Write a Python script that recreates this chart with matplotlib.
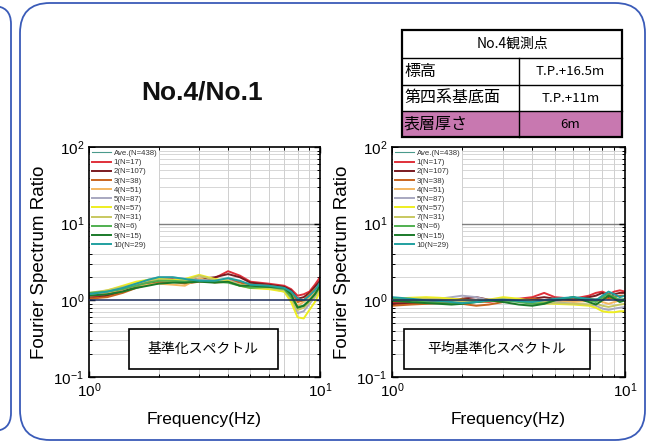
import matplotlib
matplotlib.use("Agg")
import matplotlib.pyplot as plt
from matplotlib.patches import FancyBboxPatch, Rectangle
from matplotlib.ticker import LogLocator, NullFormatter

plt.rcParams["font.family"] = ["Liberation Sans", "DejaVu Sans"]
JP = ["Noto Sans CJK JP", "DejaVu Sans"]

# 周波数 (Hz)
FREQ = [1.0, 1.2, 1.4, 1.6, 1.8, 2.0, 2.3, 2.6, 3.0, 3.5, 4.0, 4.5, 5.0, 6.0, 7.0, 7.5, 8.0, 8.5, 9.0, 9.5, 10.0]

LABELS = ["Ave.(N=438)", "1(N=17)", "2(N=107)", "3(N=38)", "4(N=51)", "5(N=87)",
          "6(N=57)", "7(N=31)", "8(N=6)", "9(N=15)", "10(N=29)"]
COLORS = ["#4a9a8c", "#e0303a", "#7a1a20", "#c8641e", "#f5b860", "#a8a8c0",
          "#eeee20", "#c8c860", "#50b050", "#1a7a2a", "#20a0a0"]

# 基準化スペクトル (左)
LEFT = [
    [1.18, 1.30, 1.45, 1.60, 1.75, 1.88, 1.90, 1.85, 1.80, 1.85, 1.90, 1.75, 1.65, 1.60, 1.45, 1.30, 1.00, 0.95, 1.10, 1.30, 1.60],
    [1.10, 1.20, 1.40, 1.55, 1.70, 1.85, 1.90, 1.85, 1.80, 1.95, 2.40, 2.10, 1.75, 1.65, 1.55, 1.40, 1.15, 1.20, 1.30, 1.60, 2.00],
    [1.05, 1.15, 1.30, 1.50, 1.65, 1.80, 1.85, 1.80, 1.90, 2.00, 2.20, 2.00, 1.70, 1.60, 1.50, 1.35, 1.05, 1.10, 1.25, 1.50, 1.80],
    [1.05, 1.10, 1.25, 1.45, 1.60, 1.70, 1.75, 1.65, 1.75, 1.80, 1.85, 1.70, 1.60, 1.55, 1.45, 1.25, 0.95, 1.00, 1.20, 1.40, 1.55],
    [1.15, 1.25, 1.40, 1.55, 1.60, 1.65, 1.60, 1.55, 1.95, 1.70, 1.75, 1.60, 1.55, 1.50, 1.40, 1.20, 0.85, 0.95, 1.10, 1.30, 1.50],
    [1.20, 1.30, 1.45, 1.65, 1.85, 2.00, 2.00, 1.90, 1.85, 1.80, 1.85, 1.60, 1.50, 1.45, 1.30, 1.00, 0.68, 0.72, 0.90, 1.10, 1.35],
    [1.20, 1.35, 1.55, 1.75, 1.85, 1.90, 1.85, 1.90, 2.15, 1.90, 1.80, 1.55, 1.45, 1.40, 1.30, 0.95, 0.60, 0.58, 0.75, 0.95, 1.30],
    [1.25, 1.35, 1.50, 1.65, 1.80, 1.85, 1.80, 1.80, 2.10, 1.85, 1.75, 1.60, 1.50, 1.45, 1.35, 1.05, 0.75, 0.80, 0.95, 1.15, 1.40],
    [1.25, 1.30, 1.40, 1.55, 1.70, 1.80, 1.80, 1.75, 1.80, 1.75, 1.70, 1.55, 1.45, 1.50, 1.40, 1.10, 0.82, 0.85, 1.00, 1.20, 1.50],
    [1.15, 1.20, 1.30, 1.45, 1.55, 1.65, 1.70, 1.70, 1.75, 1.70, 1.75, 1.55, 1.55, 1.50, 1.45, 1.20, 0.80, 0.85, 1.00, 1.20, 1.55],
    [1.20, 1.30, 1.45, 1.65, 1.85, 2.00, 2.00, 1.90, 1.80, 1.80, 1.95, 1.80, 1.60, 1.55, 1.45, 1.30, 1.05, 1.00, 1.15, 1.35, 1.70],
]

# 平均基準化スペクトル (右)
RIGHT = [
    [1.00, 1.00, 1.00, 1.02, 1.02, 1.00, 0.98, 1.00, 1.02, 1.00, 1.02, 1.00, 1.02, 1.05, 1.05, 1.05, 1.05, 1.05, 1.05, 1.05, 1.02],
    [0.95, 0.92, 0.95, 1.00, 1.05, 1.00, 0.95, 0.95, 1.02, 1.05, 1.10, 1.25, 1.10, 1.05, 1.15, 1.25, 1.30, 1.20, 1.30, 1.35, 1.30],
    [0.90, 0.90, 0.92, 0.95, 1.00, 1.05, 1.10, 1.02, 0.98, 1.00, 1.05, 1.10, 1.05, 1.00, 1.10, 1.15, 1.25, 1.10, 1.20, 1.25, 1.25],
    [0.85, 0.88, 0.90, 0.92, 0.95, 0.90, 0.85, 0.88, 0.95, 1.00, 1.05, 1.00, 0.95, 1.00, 1.05, 1.00, 1.10, 1.05, 1.10, 1.15, 1.15],
    [1.00, 1.02, 1.05, 1.05, 1.02, 0.98, 0.95, 0.97, 1.05, 1.00, 0.95, 0.98, 1.00, 0.95, 0.98, 1.00, 0.95, 0.90, 0.95, 1.00, 0.98],
    [1.05, 1.02, 1.00, 1.05, 1.10, 1.15, 1.10, 1.00, 0.98, 1.00, 0.95, 0.92, 0.95, 0.90, 0.88, 0.85, 0.78, 0.75, 0.78, 0.80, 0.82],
    [1.05, 1.08, 1.10, 1.08, 1.05, 1.02, 1.00, 1.02, 1.10, 1.05, 0.98, 0.92, 0.90, 0.88, 0.85, 0.80, 0.72, 0.70, 0.70, 0.72, 0.72],
    [1.02, 1.05, 1.05, 1.02, 1.00, 0.98, 1.00, 1.02, 1.05, 1.00, 0.92, 0.90, 0.92, 0.90, 0.88, 0.90, 0.85, 0.82, 0.85, 0.88, 0.90],
    [1.05, 1.00, 0.95, 0.92, 0.90, 0.92, 0.95, 0.98, 1.00, 0.95, 0.90, 0.92, 1.00, 1.10, 1.00, 0.95, 1.10, 1.20, 1.10, 1.00, 1.05],
    [0.98, 0.95, 0.92, 0.90, 0.88, 0.90, 0.95, 1.00, 0.95, 0.88, 0.85, 0.90, 1.00, 1.10, 0.95, 0.88, 1.00, 1.15, 1.05, 0.95, 1.00],
    [1.10, 1.05, 1.00, 0.98, 0.95, 0.92, 0.95, 1.00, 1.02, 0.98, 0.95, 1.00, 1.05, 1.10, 1.05, 1.00, 1.15, 1.30, 1.20, 1.10, 1.15],
]

TABLE_ROWS = [("標高", "T.P.+16.5m"), ("第四系基底面", "T.P.+11m"), ("表層厚さ", "6m")]

W, H = 650, 447
fig = plt.figure(figsize=(W / 100, H / 100), dpi=100)
fig.patch.set_facecolor("white")

# 背景: 枠と表 (ピクセル座標)
bg = fig.add_axes([0, 0, 1, 1])
bg.set_xlim(0, W)
bg.set_ylim(H, 0)
bg.axis("off")
blue = "#3a5bb8"
bg.add_patch(FancyBboxPatch((20, 3), 625, 437, boxstyle="round,pad=0,rounding_size=30",
                            fc="none", ec=blue, lw=1.3))
bg.add_patch(FancyBboxPatch((-300, 6), 311, 425, boxstyle="round,pad=0,rounding_size=18",
                            fc="none", ec=blue, lw=1.3))

bg.text(202, 92, "No.4/No.1", ha="center", va="center", fontsize=19, weight="bold", color="#111111")

# 表
tx0, tx1, tsplit = 402, 622, 519
ty = [30, 58, 85, 111, 137]
bg.add_patch(Rectangle((tx0, ty[3]), tx1 - tx0, ty[4] - ty[3], fc="#c878b0", ec="none"))
for y in ty[1:-1]:
    bg.plot([tx0, tx1], [y, y], color="black", lw=1.0)
bg.plot([tsplit, tsplit], [ty[1], ty[4]], color="black", lw=1.0)
bg.add_patch(Rectangle((tx0, ty[0]), tx1 - tx0, ty[4] - ty[0], fc="none", ec="black", lw=1.6))
bg.text((tx0 + tx1) / 2, (ty[0] + ty[1]) / 2, "No.4観測点", ha="center", va="center",
        fontsize=10, family=JP)
for i, (name, val) in enumerate(TABLE_ROWS):
    yc = (ty[i + 1] + ty[i + 2]) / 2
    bg.text(tx0 + 2, yc, name, ha="left", va="center", fontsize=11.5, family=JP)
    bg.text((tsplit + tx1) / 2, yc, val, ha="center", va="center", fontsize=9.5, family=JP)


def draw_panel(ax, data, caption, box_x):
    ax.set_xscale("log")
    ax.set_yscale("log")
    ax.set_xlim(1, 10)
    ax.set_ylim(0.1, 100)
    for f in range(2, 10):
        ax.axvline(f, color="#c8c8c8", lw=0.6, zorder=0)
    for dec in [0.1, 1, 10]:
        for m in range(2, 10):
            ax.axhline(dec * m, color="#d0d0d0", lw=0.6, zorder=0)
    ax.axhline(10, color="#808080", lw=1.0, zorder=0.5)
    for vals, lab, col in zip(data, LABELS, COLORS):
        lw = 0.8 if lab.startswith("Ave") else 1.4
        ax.plot(FREQ, vals, color=col, lw=lw, label=lab, zorder=2)
    ax.axhline(1, color="#1a2a5a", lw=1.1, zorder=3)
    ax.xaxis.set_major_locator(LogLocator(base=10, numticks=5))
    ax.xaxis.set_minor_locator(LogLocator(base=10, subs=range(2, 10), numticks=10))
    ax.yaxis.set_minor_locator(LogLocator(base=10, subs=range(2, 10), numticks=10))
    ax.xaxis.set_minor_formatter(NullFormatter())
    ax.yaxis.set_minor_formatter(NullFormatter())
    ax.tick_params(which="both", direction="in", top=True, right=True, labelsize=11)
    ax.tick_params(which="major", length=4, width=1.0)
    ax.tick_params(which="minor", length=2, width=0.7)
    for s in ax.spines.values():
        s.set_linewidth(1.2)
    ax.set_xlabel("Frequency(Hz)", fontsize=12.5, labelpad=8)
    ax.set_ylabel("Fourier Spectrum Ratio", fontsize=13.5, labelpad=4)
    leg = ax.legend(loc="upper left", fontsize=5.6, handlelength=2.5, labelspacing=0.22,
                    borderpad=0.25, borderaxespad=0.1, handletextpad=0.3,
                    frameon=True, fancybox=False, framealpha=1)
    leg.get_frame().set_edgecolor("none")
    leg.get_frame().set_facecolor("white")
    for t in leg.get_texts():
        t.set_color("#333333")
    x0, x1 = box_x
    ax.add_patch(Rectangle((x0, 0.035), x1 - x0, 0.174, transform=ax.transAxes,
                           fc="white", ec="black", lw=1.2, zorder=6))
    ax.text((x0 + x1) / 2, 0.122, caption, transform=ax.transAxes, ha="center", va="center",
            fontsize=10, family=JP, zorder=7)


ax1 = fig.add_axes([89 / W, 70 / H, 231 / W, 230 / H])
draw_panel(ax1, LEFT, "基準化スペクトル", (0.173, 0.818))
ax2 = fig.add_axes([392 / W, 70 / H, 233 / W, 230 / H])
draw_panel(ax2, RIGHT, "平均基準化スペクトル", (0.05, 0.85))

fig.savefig("out.png", dpi=100)
